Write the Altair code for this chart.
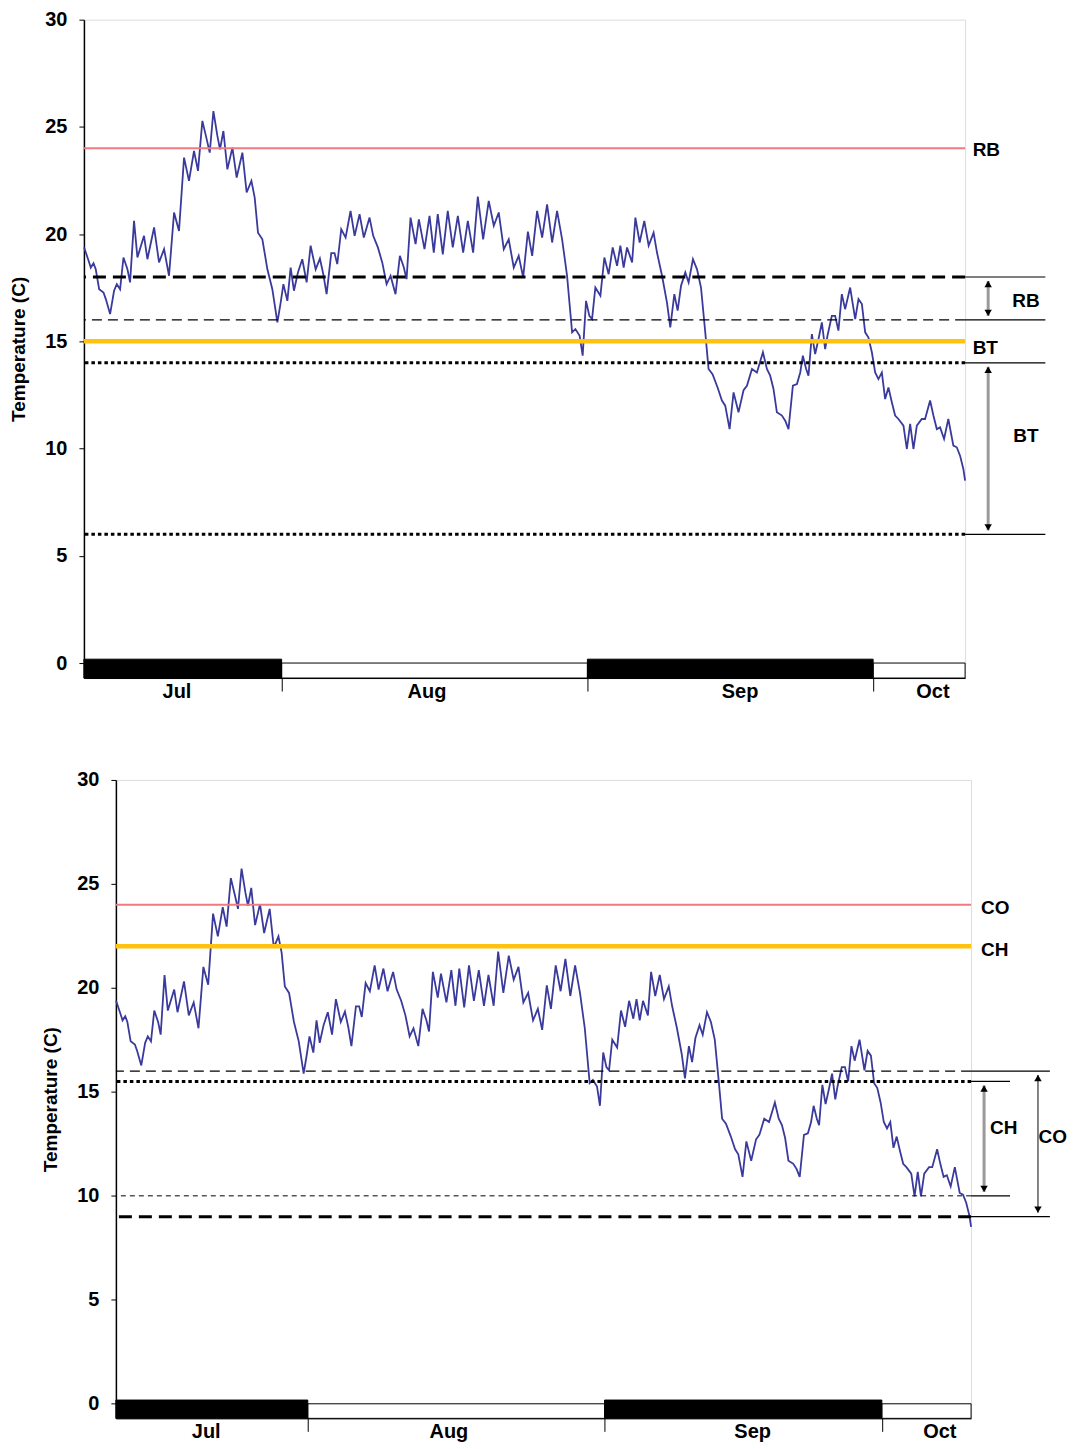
import altair as alt
import pandas as pd

# ---------------- data ----------------
day = [10.62, 11.03, 11.31, 11.59, 11.82, 12.17, 12.62, 12.86, 13.30, 13.71, 13.99, 14.33, 14.68, 15.09, 15.36,
       15.77, 16.12, 16.80, 17.15, 17.84, 18.35, 18.87, 19.38, 19.90, 20.41, 20.93, 21.44, 21.96, 22.37, 22.82,
       23.27, 23.58, 23.96, 24.37, 24.64, 24.99, 25.40, 25.92, 26.36, 26.95, 27.39, 27.88, 28.22, 28.56, 29.01,
       29.53, 30.04, 30.56, 30.90, 31.18, 31.59, 31.93, 32.27, 32.68, 33.13, 33.58, 33.99,
       34.51, 34.95, 35.30, 35.64, 36.12, 36.46, 36.74, 37.15, 37.60, 38.11, 38.53, 39.04, 39.48, 40.07, 40.45,
       40.93, 41.38, 41.83, 42.24, 42.75, 43.20, 43.61, 43.89, 44.30, 44.82, 45.16, 45.74, 46.26, 46.70, 47.11,
       47.63, 48.14, 48.66, 49.18, 49.73, 50.21, 50.76, 51.24, 51.79, 52.37, 52.89, 53.40, 53.92, 54.43, 54.95,
       55.46, 55.92, 56.41,
       56.85, 57.36, 57.88, 58.39, 58.91, 59.42, 59.94, 60.45, 60.97, 61.31, 61.75, 62.06, 62.41, 62.75, 63.03,
       63.37, 63.89, 64.30, 64.74, 65.16, 65.61, 65.95, 66.29, 66.64, 67.16, 67.50, 67.94, 68.42, 68.87, 69.38,
       69.73, 70.25, 70.76, 71.10, 71.52, 71.86, 72.21, 72.65, 72.99, 73.44, 73.86, 74.27, 74.71, 75.05, 75.46,
       75.98, 76.43, 76.77, 77.22, 77.63, 78.14, 78.66,
       79.01, 79.53, 80.04, 80.66, 81.07, 81.41, 81.75, 82.10, 82.62, 82.96, 83.30, 83.75, 84.17, 84.51, 84.78,
       85.12, 85.36, 85.71, 86.05, 86.39, 86.74, 87.08, 87.32, 87.77, 88.11, 88.45, 88.80, 89.14, 89.66, 90.18,
       90.52, 90.87, 91.21, 91.55, 91.90, 92.24, 92.58, 92.93, 93.27, 93.61, 93.96, 94.30, 94.64, 95.16, 95.51,
       95.85, 96.19, 96.54, 97.05, 97.39, 97.91, 98.25, 98.60, 98.94, 99.35, 99.79, 100.31, 100.66, 101.00,
       101.34, 101.52]

temp = [19.38, 18.83, 18.44, 18.64, 18.36, 17.43, 17.28, 16.97, 16.27, 17.36, 17.67, 17.43, 18.91, 18.36, 17.75,
        20.62, 18.91, 19.92, 18.83, 20.31, 18.68, 19.30, 18.06, 21.01, 20.15, 23.57, 22.48, 23.88, 22.95, 25.28,
        24.42, 23.80, 25.74, 24.58, 23.95, 24.81, 23.02, 24.03, 22.64, 23.80, 21.94, 22.48, 21.70, 20.07, 19.76,
        18.36, 17.43, 15.88, 16.81, 17.67, 16.89, 18.44, 17.36, 18.21, 18.83, 17.75, 19.46,
        18.36, 18.86, 18.13, 17.20, 19.11, 19.11, 18.60, 20.23, 19.84, 21.08, 19.92, 20.93, 19.84, 20.77, 19.92,
        19.38, 18.68, 17.67, 18.06, 17.20, 18.99, 18.44, 17.90, 20.77, 19.53, 20.69, 19.30, 20.85, 19.14, 20.93,
        19.06, 21.08, 19.38, 20.85, 19.14, 20.62, 19.14, 21.75, 19.76, 21.55, 20.39, 21.01, 19.30, 19.76, 18.44,
        18.99, 17.98, 20.12,
        18.99, 21.08, 19.84, 21.39, 19.61, 21.08, 19.76, 18.06, 15.42, 15.57, 15.26, 14.33, 16.89, 16.19, 16.04,
        17.51, 17.13, 18.91, 18.13, 19.38, 18.52, 19.46, 18.44, 19.38, 18.68, 20.77, 19.61, 20.62, 19.46, 20.07,
        19.14, 18.06, 16.81, 15.65, 17.20, 16.43, 17.59, 18.21, 17.75, 18.83, 18.36, 17.51, 15.42, 13.71, 13.47,
        12.85, 12.24, 12.00, 10.91, 12.62, 11.69, 12.72,
        12.93, 13.71, 13.55, 14.49, 13.71, 13.40, 12.78, 11.69, 11.54, 11.30, 10.91, 12.93, 13.01, 13.55, 14.33,
        13.71, 13.40, 15.34, 14.41, 15.10, 15.88, 14.64, 15.26, 16.19, 16.19, 15.50, 17.20, 16.50, 17.51, 16.04,
        16.97, 16.74, 15.42, 15.18, 14.49, 13.55, 13.24, 13.55, 12.31, 12.85, 12.16, 11.54, 11.38, 11.07, 9.98,
        11.15, 9.98, 11.07, 11.38, 11.38, 12.24, 11.54, 10.91, 10.99, 10.45, 11.38, 10.14, 10.06, 9.67,
        9.05, 8.51]

month_names = ["Jul", "Aug", "Sep", "Oct"]
month_start = [10.6, 31.0, 62.55, 92.03]
month_end = [31.0, 62.55, 92.03, 101.52]
month_label_day = [20.2, 46.0, 78.3, 98.2]
month_boundaries = [31.0, 62.55, 92.03]
y_ticks = [0, 5, 10, 15, 20, 25, 30]

X_DOMAIN = [10.6, 101.52]
Y_DOMAIN = [-0.7, 30]

# panel 1 (RB / BT)
p1_lines = [(24, "red"), (15, "yellow"), (18, "dash_thick"), (16, "dash_thin"), (14, "dotted"), (6, "dotted")]
p1_side_rules = [(18, 101.52, 109.8), (16, 101.52, 109.8), (14, 101.52, 109.8), (6, 101.52, 109.8)]
p1_arrows = [(103.9, 18, 16, "gray"), (103.9, 14, 6, "gray")]
p1_labels = [("RB", 102.3, 23.9, "left"), ("BT", 102.3, 14.7, "left"),
             ("RB", 107.8, 16.9, "center"), ("BT", 107.8, 10.6, "center")]

# panel 2 (CO / CH)
p2_lines = [(24, "red"), (22, "yellow"), (16, "dash_thin"), (15.5, "dotted"), (10, "dash_fine"), (9, "dash_thick")]
p2_side_rules = [(16, 101.52, 109.9), (9, 101.52, 109.9), (15.5, 101.52, 105.66), (10, 101.52, 105.66)]
p2_arrows = [(102.9, 15.5, 10, "gray"), (108.63, 16, 9, "thin")]
p2_labels = [("CO", 102.58, 23.85, "left"), ("CH", 102.58, 21.83, "left"),
             ("CH", 105.0, 13.27, "center"), ("CO", 110.2, 12.84, "center")]

# ---------------- styling ----------------
FONT = "Liberation Sans, Arial, sans-serif"
STYLE = {
    "red": dict(color="#f07a82", strokeWidth=2),
    "yellow": dict(color="#ffc20e", strokeWidth=4.5),
    "dash_thick": dict(color="black", strokeWidth=3, strokeDash=[13, 7]),
    "dash_thin": dict(color="black", strokeWidth=1.4, strokeDash=[10, 6]),
    "dash_fine": dict(color="black", strokeWidth=1, strokeDash=[5, 4]),
    "dotted": dict(color="black", strokeWidth=3, strokeDash=[3.5, 3]),
}
ARROW = {"gray": dict(color="#9a9a9a", strokeWidth=3), "thin": dict(color="#333333", strokeWidth=1.2)}

x_axis = alt.Axis(values=month_boundaries, labels=False, tickSize=13, tickColor="black", domainColor="black",
                  grid=False, title=None)
y_axis = alt.Axis(values=y_ticks, title="Temperature (C)", titleFont=FONT, titleFontSize=19,
                  titleFontWeight="bold", titleColor="black", labelFont=FONT, labelFontSize=20,
                  labelFontWeight="bold", labelColor="black", tickSize=5, tickColor="black",
                  domainColor="black", domainWidth=1.5, labelPadding=12, titlePadding=16, grid=False)


def build_panel(width, height, lines, side_rules, arrows, labels):
    ppu = height / (Y_DOMAIN[1] - Y_DOMAIN[0])
    xs = alt.Scale(domain=X_DOMAIN, nice=False, zero=False)
    ys = alt.Scale(domain=Y_DOMAIN, nice=False, zero=False)

    def X(f="day"):
        return alt.X(f"{f}:Q", scale=xs, axis=x_axis)

    def Y(f="temp"):
        return alt.Y(f"{f}:Q", scale=ys, axis=y_axis)

    layers = [alt.Chart(pd.DataFrame({"day": day, "temp": temp}))
              .mark_line(color="#3a3a9c", strokeWidth=1.8).encode(x=X(), y=Y())]

    for value, style in lines:
        layers.append(alt.Chart(pd.DataFrame({"temp": [value]})).mark_rule(**STYLE[style]).encode(y=Y()))

    for t, d0, d1 in side_rules:
        layers.append(alt.Chart(pd.DataFrame({"day": [d0], "day2": [d1], "temp": [t]}))
                      .mark_rule(color="black", strokeWidth=1.2).encode(x=X(), x2="day2", y=Y()))

    for d, top, bot, style in arrows:
        off = 4 / ppu
        layers.append(alt.Chart(pd.DataFrame({"day": [d], "temp": [top - off], "temp2": [bot + off]}))
                      .mark_rule(**ARROW[style]).encode(x=X(), y=Y(), y2="temp2"))
        layers.append(alt.Chart(pd.DataFrame({"day": [d], "temp": [top]}))
                      .mark_point(shape="triangle-up", filled=True, color="black", opacity=1, size=55, yOffset=7)
                      .encode(x=X(), y=Y()))
        layers.append(alt.Chart(pd.DataFrame({"day": [d], "temp": [bot]}))
                      .mark_point(shape="triangle-down", filled=True, color="black", opacity=1, size=55, yOffset=-7)
                      .encode(x=X(), y=Y()))

    for text, d, t, align in labels:
        layers.append(alt.Chart(pd.DataFrame({"day": [d], "temp": [t], "label": [text]}))
                      .mark_text(font=FONT, fontSize=19, fontWeight="bold", color="black", align=align,
                                 baseline="middle")
                      .encode(x=X(), y=Y(), text="label:N"))

    months = pd.DataFrame({"day": month_start, "day2": month_end, "name": month_names})
    dark = months.iloc[[0, 2]].assign(temp=0.18, temp2=Y_DOMAIN[0])
    light = months.iloc[[1, 3]].assign(temp=0.0, temp2=Y_DOMAIN[0])
    layers.append(alt.Chart(light).mark_rect(fill="white", stroke="black", strokeWidth=1)
                  .encode(x=X(), x2="day2", y=Y(), y2="temp2"))
    layers.append(alt.Chart(dark).mark_rect(fill="black", stroke="black", strokeWidth=1)
                  .encode(x=X(), x2="day2", y=Y(), y2="temp2"))
    layers.append(alt.Chart(pd.DataFrame({"day": month_label_day, "name": month_names}))
                  .mark_text(font=FONT, fontSize=20, fontWeight="bold", color="black", baseline="middle")
                  .encode(x=X(), y=alt.value(height + 14), text="name:N"))

    return alt.layer(*layers).properties(width=width, height=height)


def spacer():
    return (alt.Chart(pd.DataFrame({"z": [0]})).mark_point(opacity=0, size=0)
            .encode(x=alt.value(0), y=alt.value(0))
            .properties(width=1, height=1, view=alt.ViewBackground(strokeOpacity=0)))


p1 = build_panel(882, 659, p1_lines, p1_side_rules, p1_arrows, p1_labels)
p2 = build_panel(856, 639, p2_lines, p2_side_rules, p2_arrows, p2_labels)

row1 = alt.hconcat(spacer(), p1, spacing=0)
row2 = alt.hconcat(spacer(), p2, spacing=32)

chart = (alt.vconcat(row1, row2, spacing=66)
         .properties(padding={"left": 0, "top": 0, "right": 0, "bottom": 0})
         .configure_view(stroke="#8c8c8c", strokeWidth=1)
         .configure(font=FONT))

chart.save("out.html", embed_options={"renderer": "svg", "actions": False})
